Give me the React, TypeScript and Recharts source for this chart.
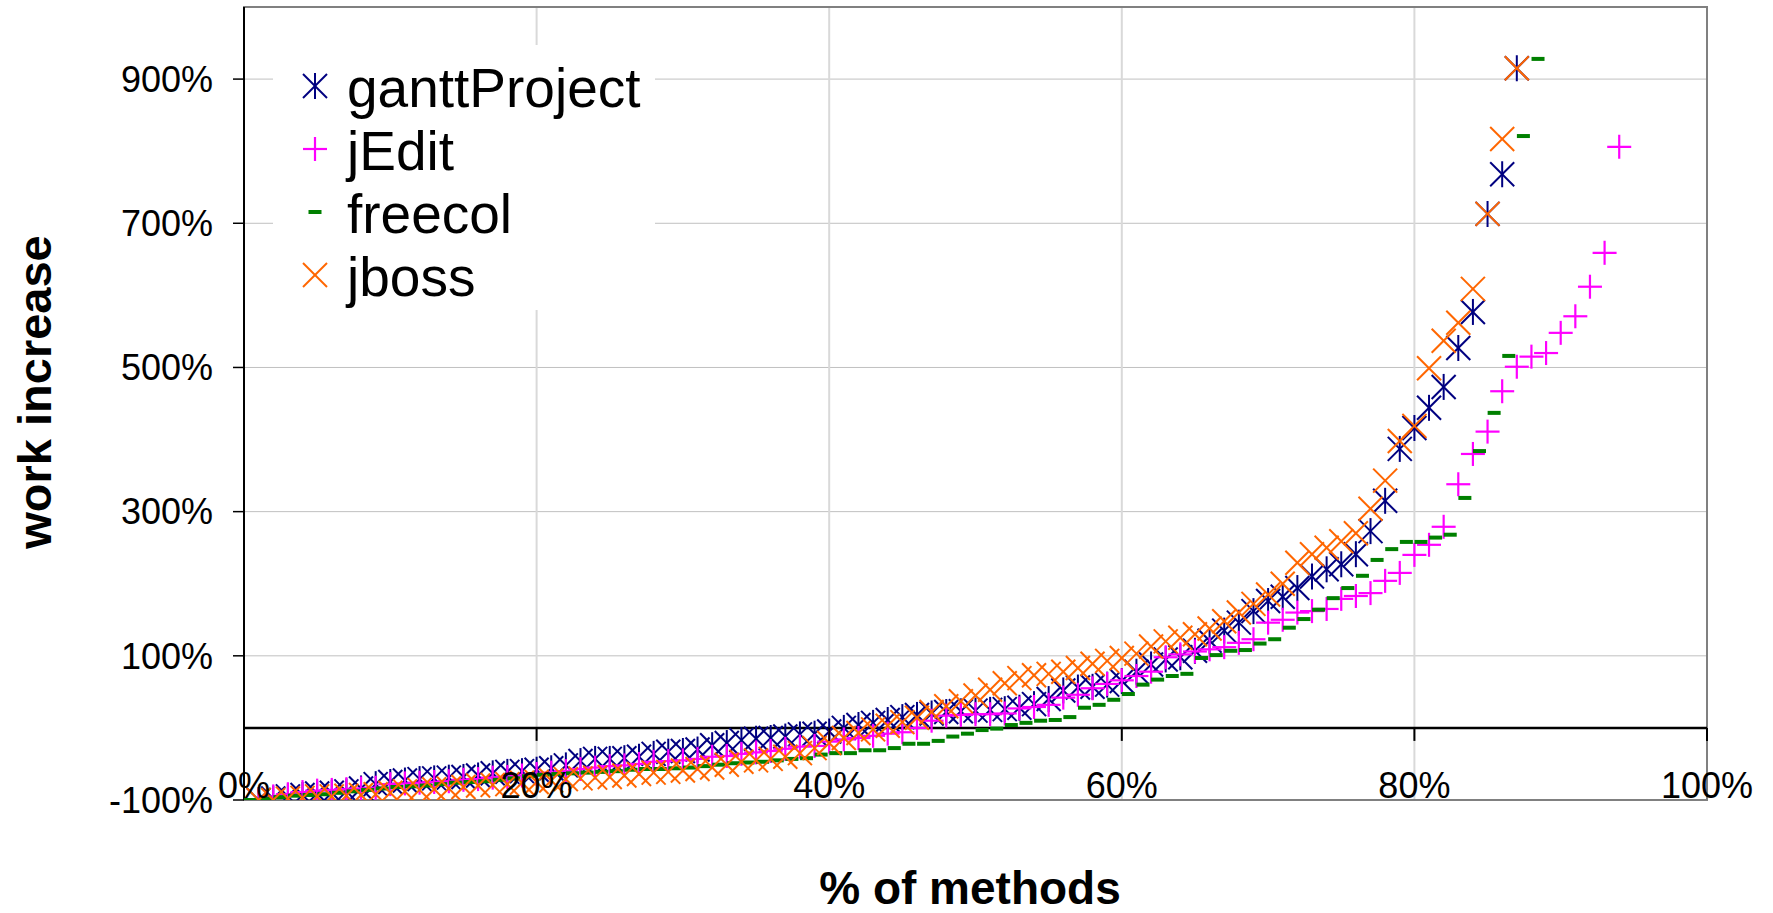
import React from 'react';
import {
  ScatterChart,
  Scatter,
  XAxis,
  YAxis,
  CartesianGrid,
  ReferenceLine,
  ReferenceArea,
  Legend,
} from 'recharts';

// tick values
const xTicks = [0, 20, 40, 60, 80, 100];
const yTicks = [-100, 100, 300, 500, 700, 900];

// series names in legend order
const seriesNames = ['ganttProject', 'jEdit', 'freecol', 'jboss'];

// work increase (%) per percentile of methods, x = 1%, 2%, ...
const ganttWork = [
  -100, -98, -95, -93, -91, -90, -88, -84, -78, -75,
  -73, -71, -70, -69, -68, -66, -63, -61, -60, -58,
  -56, -52, -46, -43, -43, -42, -40, -36, -33, -32,
  -30, -24, -21, -17, -15, -14, -12, -9, -8, -5,
  0, 4, 7, 11, 15, 18, 20, 22, 23, 24,
  25, 26, 28, 33, 40, 52, 56, 57, 60, 65,
  78, 88, 95, 98, 107, 121, 135, 146, 162, 176,
  182, 194, 210, 220, 227, 241, 273, 315, 387, 416,
  444, 473, 527, 577, 713, 768, 915,
];

const jEditWork = [
  -100, -95, -92, -89, -87, -86, -85, -84, -83, -78,
  -77, -76, -75, -74, -72, -71, -69, -68, -66, -64,
  -62, -60, -57, -55, -53, -52, -50, -47, -46, -45,
  -43, -40, -39, -36, -34, -32, -29, -26, -25, -19,
  -16, -14, -11, -8, -6, 0, 10, 17, 18, 19,
  19, 20, 27, 29, 32, 42, 46, 55, 61, 66,
  72, 78, 98, 102, 106, 109, 112, 118, 123, 146,
  150, 160, 162, 165, 179, 183, 187, 204, 215, 240,
  254, 279, 338, 380, 411, 467, 501, 515, 520, 548,
  571, 612, 659, 806,
];

// freecol points sit a little left of the others (x = 0.45%, 1.45%, ...)
const freecolShift = 0.45;
const freecolWork = [
  -100, -98, -96, -94, -93, -92, -90, -88, -86, -84,
  -82, -81, -80, -78, -76, -75, -74, -72, -70, -67,
  -65, -64, -63, -62, -61, -60, -58, -57, -57, -56,
  -55, -53, -51, -49, -48, -47, -45, -43, -42, -37,
  -35, -35, -31, -31, -28, -22, -22, -18, -12, -8,
  -3, -1, 4, 7, 10, 11, 15, 28, 32, 39,
  47, 60, 67, 72, 75, 97, 101, 107, 108, 117,
  123, 139, 151, 164, 180, 194, 211, 233, 248, 258,
  258, 264, 268, 319, 384, 437, 516, 821, 928,
];

const jbossWork = [
  -100, -100, -98, -97, -95, -95, -94, -93, -92, -90,
  -88, -86, -85, -84, -82, -80, -79, -78, -76, -75,
  -73, -71, -70, -69, -68, -66, -64, -62, -61, -59,
  -57, -55, -51, -47, -45, -43, -40, -35, -28, -21,
  -14, -7, -2, 3, 8, 14, 22, 30, 37, 45,
  53, 62, 69, 73, 75, 78, 83, 89, 93, 97,
  103, 113, 120, 125, 130, 138, 148, 160, 172, 185,
  200, 229, 241, 250, 259, 270, 304, 343, 398, 419,
  499, 537, 562, 609, 713, 817, 915,
];

const toPoints = (values: number[], shift: number) =>
  values.map((v, i) => ({ x: i + shift, y: v }));

const FONT = 'Arial, "Liberation Sans", sans-serif';

// plot geometry
const W = 1773;
const H = 913;
const PLOT_LEFT = 244;
const PLOT_TOP = 7;
const PLOT_RIGHT = 1707;
const PLOT_BOTTOM = 800;
const ZERO_Y = PLOT_TOP + ((1000 - 0) / 1100) * (PLOT_BOTTOM - PLOT_TOP);

type MarkProps = { cx?: number; cy?: number };

const Asterisk = ({ cx = 0, cy = 0 }: MarkProps) => (
  <g stroke="#000080" strokeWidth={2}>
    <line x1={cx - 12} y1={cy - 12} x2={cx + 12} y2={cy + 12} />
    <line x1={cx - 12} y1={cy + 12} x2={cx + 12} y2={cy - 12} />
    <line x1={cx} y1={cy - 13} x2={cx} y2={cy + 13} />
  </g>
);

const Plus = ({ cx = 0, cy = 0 }: MarkProps) => (
  <g stroke="#FF00FF" strokeWidth={2.2}>
    <line x1={cx - 12} y1={cy} x2={cx + 12} y2={cy} />
    <line x1={cx} y1={cy - 12} x2={cx} y2={cy + 12} />
  </g>
);

const Dash = ({ cx = 0, cy = 0 }: MarkProps) => (
  <rect x={cx - 6.5} y={cy - 2} width={13} height={4} fill="#008000" />
);

const Cross = ({ cx = 0, cy = 0 }: MarkProps) => (
  <g stroke="#FF6600" strokeWidth={2}>
    <line x1={cx - 12} y1={cy - 12} x2={cx + 12} y2={cy + 12} />
    <line x1={cx - 12} y1={cy + 12} x2={cx + 12} y2={cy - 12} />
  </g>
);

const markers: Record<string, (p: MarkProps) => React.ReactElement> = {
  ganttProject: Asterisk,
  jEdit: Plus,
  freecol: Dash,
  jboss: Cross,
};

const XTick = (props: any) => {
  const { x, payload } = props;
  return (
    <g>
      <line x1={x} x2={x} y1={ZERO_Y} y2={ZERO_Y + 13} stroke="#000" strokeWidth={2} />
      <text x={x} y={798} textAnchor="middle" fontSize={36} fontFamily={FONT} fill="#000">
        {`${payload.value}%`}
      </text>
    </g>
  );
};

const renderLegend = (props: any) => {
  const items = [...(props.payload || [])].sort(
    (a: any, b: any) => seriesNames.indexOf(a.value) - seriesNames.indexOf(b.value)
  );
  return (
    <svg width={382} height={265} style={{ background: '#fff', display: 'block' }}>
      {items.map((entry: any, i: number) => {
        const cy = 41 + i * 63;
        const Mark = markers[entry.value];
        return (
          <g key={entry.value}>
            {Mark ? <Mark cx={42} cy={cy} /> : null}
            <text x={74} y={cy + 21} fontSize={55} fontFamily={FONT} fill="#000">
              {entry.value}
            </text>
          </g>
        );
      })}
    </svg>
  );
};

export default function App() {
  return (
    <div style={{ position: 'absolute', left: 0, top: 0, width: W, height: H, background: '#fff' }}>
      <ScatterChart width={W} height={H} margin={{ top: PLOT_TOP, right: W - PLOT_RIGHT, bottom: 0, left: 0 }}>
        <CartesianGrid vertical={false} stroke="#c0c0c0" strokeWidth={1} />
        <CartesianGrid horizontal={false} stroke="#d9d9d9" strokeWidth={2} />
        <ReferenceArea x1={0} x2={100} y1={-100} y2={1000} fill="none" stroke="#808080" strokeWidth={2} />
        <ReferenceLine y={0} stroke="#000" strokeWidth={2.5} />
        <XAxis
          type="number"
          dataKey="x"
          domain={[0, 100]}
          ticks={xTicks}
          height={H - PLOT_BOTTOM}
          axisLine={false}
          tickLine={false}
          tick={<XTick />}
          interval={0}
        />
        <YAxis
          type="number"
          dataKey="y"
          domain={[-100, 1000]}
          ticks={yTicks}
          width={PLOT_LEFT}
          allowDataOverflow
          interval={0}
          axisLine={{ stroke: '#000', strokeWidth: 2 }}
          tickLine={{ stroke: '#000', strokeWidth: 1.5 }}
          tickSize={11}
          tickMargin={20}
          tick={{ fontSize: 36, fontFamily: FONT, fill: '#000' }}
          tickFormatter={(v: number) => `${v}%`}
        />
        <Legend
          layout="vertical"
          align="center"
          verticalAlign="middle"
          content={renderLegend}
          wrapperStyle={{ left: 273, top: 45, width: 382, height: 265 }}
        />
        <Scatter name="ganttProject" data={toPoints(ganttWork, 1)} shape={(p: any) => <Asterisk cx={p.cx} cy={p.cy} />} isAnimationActive={false} />
        <Scatter name="jEdit" data={toPoints(jEditWork, 1)} shape={(p: any) => <Plus cx={p.cx} cy={p.cy} />} isAnimationActive={false} />
        <Scatter name="freecol" data={toPoints(freecolWork, freecolShift)} shape={(p: any) => <Dash cx={p.cx} cy={p.cy} />} isAnimationActive={false} />
        <Scatter name="jboss" data={toPoints(jbossWork, 1)} shape={(p: any) => <Cross cx={p.cx} cy={p.cy} />} isAnimationActive={false} />
      </ScatterChart>
      <svg width={W} height={H} style={{ position: 'absolute', left: 0, top: 0, pointerEvents: 'none' }}>
        <text
          x={51}
          y={392}
          transform="rotate(-90, 51, 392)"
          textAnchor="middle"
          fontSize={47}
          fontWeight="bold"
          fontFamily={FONT}
          fill="#000"
        >
          work increase
        </text>
        <text x={970} y={904} textAnchor="middle" fontSize={46} fontWeight="bold" fontFamily={FONT} fill="#000">
          % of methods
        </text>
      </svg>
    </div>
  );
}
